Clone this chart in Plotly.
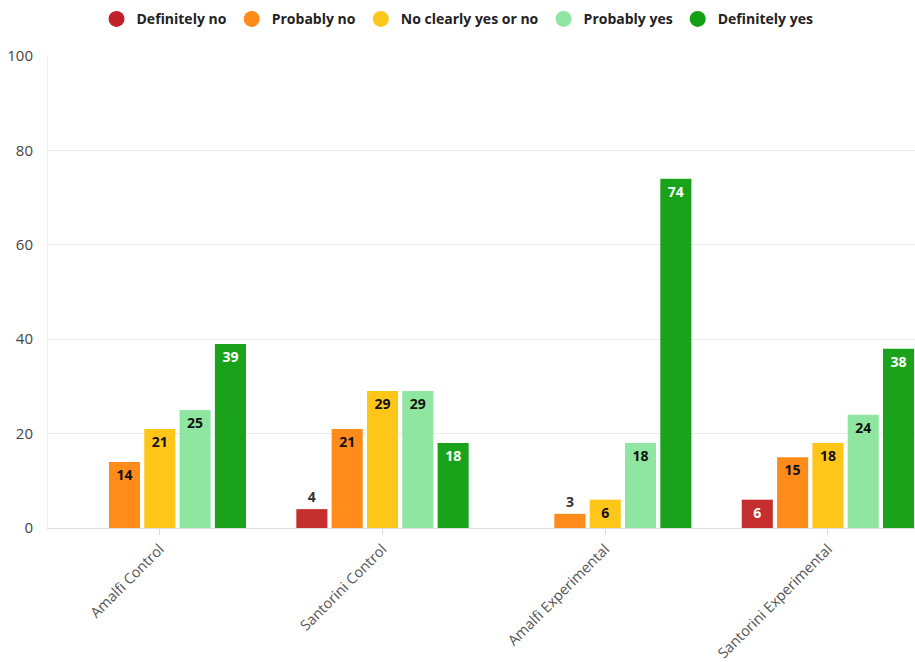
import plotly.graph_objects as go

categories = ["Amalfi Control", "Santorini Control", "Amalfi Experimental", "Santorini Experimental"]
series_names = ["Definitely no", "Probably no", "No clearly yes or no", "Probably yes", "Definitely yes"]
definitely_no = [None, 4, None, 6]
probably_no = [14, 21, 3, 15]
neutral = [21, 29, 6, 18]
probably_yes = [25, 29, 18, 24]
definitely_yes = [39, 18, 74, 38]
y_ticks = [0, 20, 40, 60, 80, 100]

series_values = [definitely_no, probably_no, neutral, probably_yes, definitely_yes]
colors = ["#C62F2F", "#FF8C1A", "#FFC61A", "#8EE6A0", "#1AA31A"]
legend_colors = ["#C0212A", "#FF8C1A", "#FFC61A", "#8EE6A0", "#14A014"]
inside_text_colors = ["#FFFFFF", "#111111", "#111111", "#111111", "#FFFFFF"]

FONT = "Open Sans"
fig = go.Figure()

for name, vals, col, tcol in zip(series_names, series_values, colors, inside_text_colors):
    positions = []
    tcolors = []
    for v in vals:
        if v is not None and v < 5:
            positions.append("outside")
            tcolors.append("#333333")
        else:
            positions.append("inside")
            tcolors.append(tcol)
    fig.add_trace(go.Bar(
        x=categories, y=vals, name=name, marker_color=col, marker_line_width=0,
        text=[("" if v is None else str(v)) for v in vals],
        texttemplate="<b>%{text}</b>",
        textposition=positions, insidetextanchor="end",
        textfont=dict(family=FONT, size=14, color=tcolors),
        constraintext="none", cliponaxis=False,
        showlegend=False, hoverinfo="skip",
    ))

for name, col in zip(series_names, legend_colors):
    fig.add_trace(go.Scatter(
        x=[None], y=[None], mode="markers", name=name,
        marker=dict(symbol="circle", size=17, color=col),
    ))

fig.update_layout(
    width=915, height=662,
    margin=dict(l=48, r=0, t=56, b=134, autoexpand=False),
    paper_bgcolor="white", plot_bgcolor="white",
    barmode="group", bargap=0.207, bargroupgap=0.12,
    font=dict(family=FONT, color="#444"),
    legend=dict(
        orientation="h", xref="container", x=0.5, xanchor="center",
        yref="container", y=0.995, yanchor="top",
        font=dict(family=FONT, size=14, color="#222", weight="bold"),
        itemwidth=30, tracegroupgap=0,
    ),
    xaxis=dict(
        type="category", range=[-0.502, 3.391], automargin=False,
        showline=True, linecolor="#dddddd", linewidth=1,
        ticks="outside", ticklen=6, tickcolor="#dddddd",
        tickangle=-45, tickfont=dict(family=FONT, size=14.5, color="#555"),
        showgrid=False,
    ),
    yaxis=dict(
        range=[0, 100], tickvals=y_ticks, automargin=False,
        showgrid=True, gridcolor="#ebebeb", gridwidth=1,
        showline=True, linecolor="#eeeeee",
        zeroline=False,
        tickfont=dict(family=FONT, size=15, color="#444"),
        ticks="", ticklabelstandoff=11,
    ),
)

fig.write_html(
    "out.html",
    config={"displayModeBar": False},
    post_script="document.body.style.margin='0';document.body.style.overflow='hidden';",
)
